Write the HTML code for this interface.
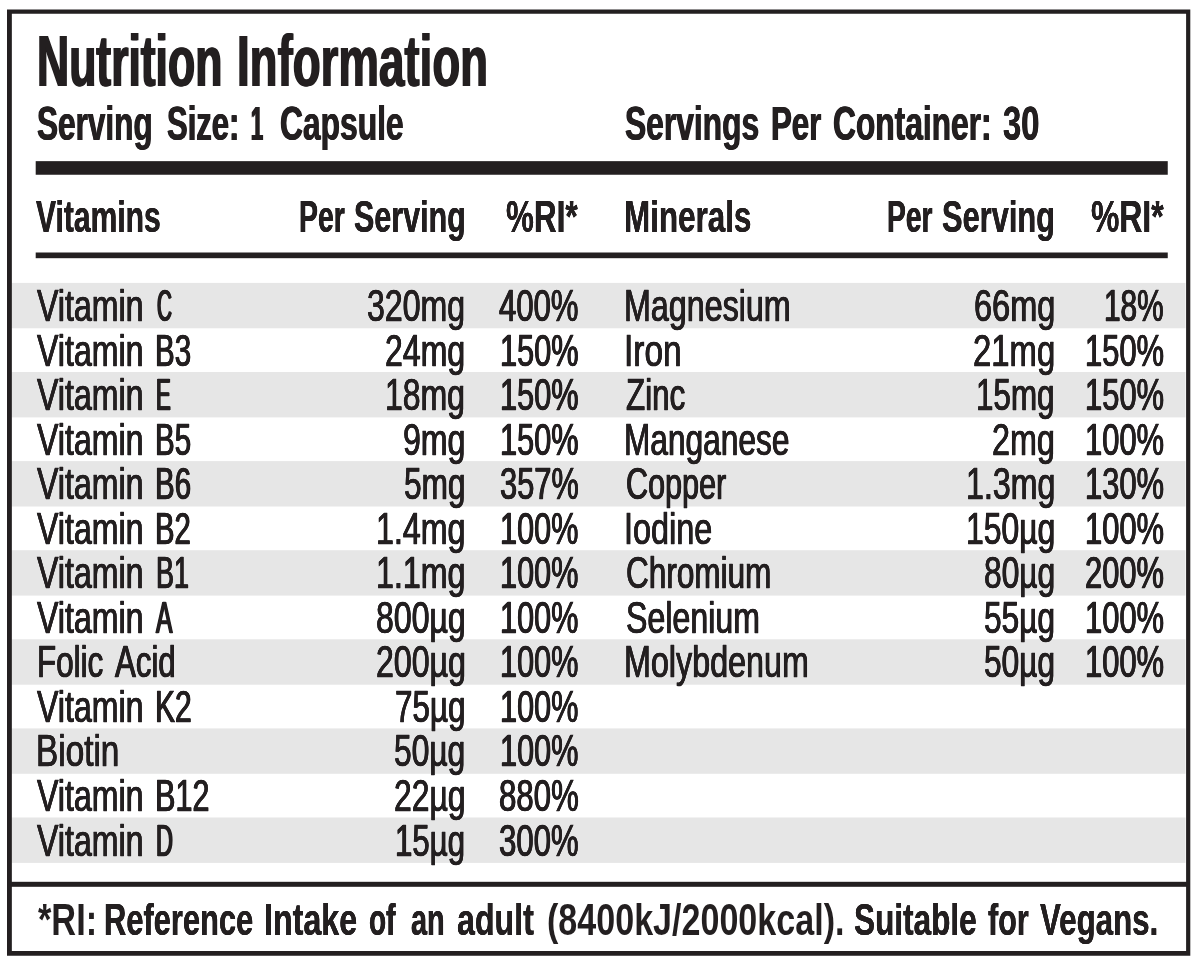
<!DOCTYPE html>
<html><head><meta charset="utf-8"><title>Nutrition Information</title>
<style>
html,body{margin:0;padding:0;background:#fff;}
#c{position:relative;width:1200px;height:963px;overflow:hidden;background:#fff;font-family:"Liberation Sans",sans-serif;color:#231f20;}
#c svg{position:absolute;left:0;top:0;}
.t{position:absolute;white-space:pre;line-height:1;transform-origin:0 0;display:block;}
</style></head><body>
<div id="c">
<svg width="1200" height="963" viewBox="0 0 1200 963">
<rect x="11.5" y="282.90" width="1174" height="45.4" fill="#e6e6e6"/>
<rect x="11.5" y="372.00" width="1174" height="45.4" fill="#e6e6e6"/>
<rect x="11.5" y="461.10" width="1174" height="45.4" fill="#e6e6e6"/>
<rect x="11.5" y="550.20" width="1174" height="45.4" fill="#e6e6e6"/>
<rect x="11.5" y="639.30" width="1174" height="45.4" fill="#e6e6e6"/>
<rect x="11.5" y="728.40" width="1174" height="45.4" fill="#e6e6e6"/>
<rect x="11.5" y="817.50" width="1174" height="45.4" fill="#e6e6e6"/>
<path fill-rule="evenodd" fill="#231f20" d="M7 9.5H1190.3V955.7H7Z M11.85 13.7V951.1H1186.1V13.7Z"/>
<rect x="35.7" y="161.15" width="1132.05" height="13.6" fill="#231f20"/>
<rect x="35.7" y="252.5" width="1132.05" height="5.7" fill="#231f20"/>
<rect x="11" y="881.8" width="1176" height="5" fill="#231f20"/>
</svg>
<span class="t" style="left:36.50px;top:24px;font-size:73px;font-weight:700;transform:scaleX(0.6095);text-shadow:1.23px 0 0 #231f20,-1.23px 0 0 #231f20;">Nutrition</span>
<span class="t" style="left:236.55px;top:24px;font-size:73px;font-weight:700;transform:scaleX(0.6254);text-shadow:1.08px 0 0 #231f20,-1.08px 0 0 #231f20;">Information</span>
<span class="t" style="left:36.75px;top:100px;font-size:48px;font-weight:700;transform:scaleX(0.6570);text-shadow:0.67px 0 0 #231f20,-0.67px 0 0 #231f20;">Serving</span>
<span class="t" style="left:166.81px;top:100px;font-size:48px;font-weight:700;transform:scaleX(0.6457);text-shadow:0.74px 0 0 #231f20,-0.74px 0 0 #231f20;">Size:</span>
<span class="t" style="left:251.16px;top:100px;font-size:48px;font-weight:700;transform:scaleX(0.4487);text-shadow:1.8px 0 0 #231f20,-1.8px 0 0 #231f20;">1</span>
<span class="t" style="left:279.80px;top:100px;font-size:48px;font-weight:700;transform:scaleX(0.6620);text-shadow:0.64px 0 0 #231f20,-0.64px 0 0 #231f20;">Capsule</span>
<span class="t" style="left:625.43px;top:100px;font-size:48px;font-weight:700;transform:scaleX(0.6617);text-shadow:0.64px 0 0 #231f20,-0.64px 0 0 #231f20;">Servings</span>
<span class="t" style="left:770.85px;top:100px;font-size:48px;font-weight:700;transform:scaleX(0.6500);text-shadow:0.71px 0 0 #231f20,-0.71px 0 0 #231f20;">Per</span>
<span class="t" style="left:833.11px;top:100px;font-size:48px;font-weight:700;transform:scaleX(0.6608);text-shadow:0.65px 0 0 #231f20,-0.65px 0 0 #231f20;">Container:</span>
<span class="t" style="left:1003.20px;top:100px;font-size:48px;font-weight:700;transform:scaleX(0.6824);text-shadow:0.52px 0 0 #231f20,-0.52px 0 0 #231f20;">30</span>
<span class="t" style="left:36.45px;top:195px;font-size:44.5px;font-weight:700;transform:scaleX(0.6756);text-shadow:0.28px 0 0 #231f20,-0.28px 0 0 #231f20;">Vitamins</span>
<span class="t" style="left:298.89px;top:195px;font-size:44.5px;font-weight:700;transform:scaleX(0.6381);text-shadow:0.48px 0 0 #231f20,-0.48px 0 0 #231f20;">Per</span>
<span class="t" style="left:353.81px;top:195px;font-size:44.5px;font-weight:700;transform:scaleX(0.6850);text-shadow:0.24px 0 0 #231f20,-0.24px 0 0 #231f20;">Serving</span>
<span class="t" style="left:506.39px;top:195px;font-size:44.5px;font-weight:700;transform:scaleX(0.7063);text-shadow:0.14px 0 0 #231f20,-0.14px 0 0 #231f20;">%RI*</span>
<span class="t" style="left:624.23px;top:195px;font-size:44.5px;font-weight:700;transform:scaleX(0.7058);text-shadow:0.14px 0 0 #231f20,-0.14px 0 0 #231f20;">Minerals</span>
<span class="t" style="left:887.16px;top:195px;font-size:44.5px;font-weight:700;transform:scaleX(0.6341);text-shadow:0.5px 0 0 #231f20,-0.5px 0 0 #231f20;">Per</span>
<span class="t" style="left:941.77px;top:195px;font-size:44.5px;font-weight:700;transform:scaleX(0.6920);text-shadow:0.2px 0 0 #231f20,-0.2px 0 0 #231f20;">Serving</span>
<span class="t" style="left:1090.60px;top:195px;font-size:44.5px;font-weight:700;transform:scaleX(0.7164);text-shadow:0.09px 0 0 #231f20,-0.09px 0 0 #231f20;">%RI*</span>
<span class="t" style="left:37.00px;top:284px;font-size:44.5px;font-weight:400;transform:scaleX(0.7220);text-shadow:0.46px 0 0 #231f20,-0.46px 0 0 #231f20;-webkit-text-stroke:0.7px #231f20;">Vitamin</span>
<span class="t" style="left:156.95px;top:284px;font-size:44.5px;font-weight:400;transform:scaleX(0.4644);text-shadow:1.8px 0 0 #231f20,-1.8px 0 0 #231f20;-webkit-text-stroke:0.7px #231f20;">C</span>
<span class="t" style="left:367.33px;top:284px;font-size:44.5px;font-weight:400;transform:scaleX(0.7210);text-shadow:0.47px 0 0 #231f20,-0.47px 0 0 #231f20;-webkit-text-stroke:0.7px #231f20;">320mg</span>
<span class="t" style="left:499.24px;top:284px;font-size:44.5px;font-weight:400;transform:scaleX(0.6978);text-shadow:0.56px 0 0 #231f20,-0.56px 0 0 #231f20;-webkit-text-stroke:0.7px #231f20;">400%</span>
<span class="t" style="left:37.00px;top:329px;font-size:44.5px;font-weight:400;transform:scaleX(0.7220);text-shadow:0.46px 0 0 #231f20,-0.46px 0 0 #231f20;-webkit-text-stroke:0.7px #231f20;">Vitamin</span>
<span class="t" style="left:155.22px;top:329px;font-size:44.5px;font-weight:400;transform:scaleX(0.6625);text-shadow:0.71px 0 0 #231f20,-0.71px 0 0 #231f20;-webkit-text-stroke:0.7px #231f20;">B3</span>
<span class="t" style="left:385.27px;top:329px;font-size:44.5px;font-weight:400;transform:scaleX(0.7202);text-shadow:0.47px 0 0 #231f20,-0.47px 0 0 #231f20;-webkit-text-stroke:0.7px #231f20;">24mg</span>
<span class="t" style="left:500.03px;top:329px;font-size:44.5px;font-weight:400;transform:scaleX(0.6906);text-shadow:0.59px 0 0 #231f20,-0.59px 0 0 #231f20;-webkit-text-stroke:0.7px #231f20;">150%</span>
<span class="t" style="left:37.00px;top:373px;font-size:44.5px;font-weight:400;transform:scaleX(0.7220);text-shadow:0.46px 0 0 #231f20,-0.46px 0 0 #231f20;-webkit-text-stroke:0.7px #231f20;">Vitamin</span>
<span class="t" style="left:156.16px;top:373px;font-size:44.5px;font-weight:400;transform:scaleX(0.4979);text-shadow:1.71px 0 0 #231f20,-1.71px 0 0 #231f20;-webkit-text-stroke:0.7px #231f20;">E</span>
<span class="t" style="left:385.48px;top:373px;font-size:44.5px;font-weight:400;transform:scaleX(0.7182);text-shadow:0.48px 0 0 #231f20,-0.48px 0 0 #231f20;-webkit-text-stroke:0.7px #231f20;">18mg</span>
<span class="t" style="left:500.03px;top:373px;font-size:44.5px;font-weight:400;transform:scaleX(0.6906);text-shadow:0.59px 0 0 #231f20,-0.59px 0 0 #231f20;-webkit-text-stroke:0.7px #231f20;">150%</span>
<span class="t" style="left:37.00px;top:418px;font-size:44.5px;font-weight:400;transform:scaleX(0.7220);text-shadow:0.46px 0 0 #231f20,-0.46px 0 0 #231f20;-webkit-text-stroke:0.7px #231f20;">Vitamin</span>
<span class="t" style="left:155.22px;top:418px;font-size:44.5px;font-weight:400;transform:scaleX(0.6625);text-shadow:0.71px 0 0 #231f20,-0.71px 0 0 #231f20;-webkit-text-stroke:0.7px #231f20;">B5</span>
<span class="t" style="left:403.05px;top:418px;font-size:44.5px;font-weight:400;transform:scaleX(0.7207);text-shadow:0.47px 0 0 #231f20,-0.47px 0 0 #231f20;-webkit-text-stroke:0.7px #231f20;">9mg</span>
<span class="t" style="left:500.03px;top:418px;font-size:44.5px;font-weight:400;transform:scaleX(0.6906);text-shadow:0.59px 0 0 #231f20,-0.59px 0 0 #231f20;-webkit-text-stroke:0.7px #231f20;">150%</span>
<span class="t" style="left:37.00px;top:462px;font-size:44.5px;font-weight:400;transform:scaleX(0.7220);text-shadow:0.46px 0 0 #231f20,-0.46px 0 0 #231f20;-webkit-text-stroke:0.7px #231f20;">Vitamin</span>
<span class="t" style="left:155.22px;top:462px;font-size:44.5px;font-weight:400;transform:scaleX(0.6625);text-shadow:0.71px 0 0 #231f20,-0.71px 0 0 #231f20;-webkit-text-stroke:0.7px #231f20;">B6</span>
<span class="t" style="left:403.87px;top:462px;font-size:44.5px;font-weight:400;transform:scaleX(0.7107);text-shadow:0.51px 0 0 #231f20,-0.51px 0 0 #231f20;-webkit-text-stroke:0.7px #231f20;">5mg</span>
<span class="t" style="left:499.83px;top:462px;font-size:44.5px;font-weight:400;transform:scaleX(0.6924);text-shadow:0.58px 0 0 #231f20,-0.58px 0 0 #231f20;-webkit-text-stroke:0.7px #231f20;">357%</span>
<span class="t" style="left:37.00px;top:507px;font-size:44.5px;font-weight:400;transform:scaleX(0.7220);text-shadow:0.46px 0 0 #231f20,-0.46px 0 0 #231f20;-webkit-text-stroke:0.7px #231f20;">Vitamin</span>
<span class="t" style="left:155.25px;top:507px;font-size:44.5px;font-weight:400;transform:scaleX(0.6571);text-shadow:0.74px 0 0 #231f20,-0.74px 0 0 #231f20;-webkit-text-stroke:0.7px #231f20;">B2</span>
<span class="t" style="left:376.05px;top:507px;font-size:44.5px;font-weight:400;transform:scaleX(0.7235);text-shadow:0.46px 0 0 #231f20,-0.46px 0 0 #231f20;-webkit-text-stroke:0.7px #231f20;">1.4mg</span>
<span class="t" style="left:500.24px;top:507px;font-size:44.5px;font-weight:400;transform:scaleX(0.6887);text-shadow:0.6px 0 0 #231f20,-0.6px 0 0 #231f20;-webkit-text-stroke:0.7px #231f20;">100%</span>
<span class="t" style="left:37.00px;top:551px;font-size:44.5px;font-weight:400;transform:scaleX(0.7220);text-shadow:0.46px 0 0 #231f20,-0.46px 0 0 #231f20;-webkit-text-stroke:0.7px #231f20;">Vitamin</span>
<span class="t" style="left:155.54px;top:551px;font-size:44.5px;font-weight:400;transform:scaleX(0.6057);text-shadow:0.99px 0 0 #231f20,-0.99px 0 0 #231f20;-webkit-text-stroke:0.7px #231f20;">B1</span>
<span class="t" style="left:376.05px;top:551px;font-size:44.5px;font-weight:400;transform:scaleX(0.7235);text-shadow:0.46px 0 0 #231f20,-0.46px 0 0 #231f20;-webkit-text-stroke:0.7px #231f20;">1.1mg</span>
<span class="t" style="left:500.24px;top:551px;font-size:44.5px;font-weight:400;transform:scaleX(0.6887);text-shadow:0.6px 0 0 #231f20,-0.6px 0 0 #231f20;-webkit-text-stroke:0.7px #231f20;">100%</span>
<span class="t" style="left:37.00px;top:596px;font-size:44.5px;font-weight:400;transform:scaleX(0.7220);text-shadow:0.46px 0 0 #231f20,-0.46px 0 0 #231f20;-webkit-text-stroke:0.7px #231f20;">Vitamin</span>
<span class="t" style="left:156.28px;top:596px;font-size:44.5px;font-weight:400;transform:scaleX(0.5527);text-shadow:1.31px 0 0 #231f20,-1.31px 0 0 #231f20;-webkit-text-stroke:0.7px #231f20;">A</span>
<span class="t" style="left:375.75px;top:596px;font-size:44.5px;font-weight:400;transform:scaleX(0.7200);text-shadow:0.47px 0 0 #231f20,-0.47px 0 0 #231f20;-webkit-text-stroke:0.7px #231f20;">800µg</span>
<span class="t" style="left:500.24px;top:596px;font-size:44.5px;font-weight:400;transform:scaleX(0.6887);text-shadow:0.6px 0 0 #231f20,-0.6px 0 0 #231f20;-webkit-text-stroke:0.7px #231f20;">100%</span>
<span class="t" style="left:36.78px;top:640px;font-size:44.5px;font-weight:400;transform:scaleX(0.7052);text-shadow:0.53px 0 0 #231f20,-0.53px 0 0 #231f20;-webkit-text-stroke:0.7px #231f20;">Folic</span>
<span class="t" style="left:115.15px;top:640px;font-size:44.5px;font-weight:400;transform:scaleX(0.7012);text-shadow:0.54px 0 0 #231f20,-0.54px 0 0 #231f20;-webkit-text-stroke:0.7px #231f20;">Acid</span>
<span class="t" style="left:375.56px;top:640px;font-size:44.5px;font-weight:400;transform:scaleX(0.7216);text-shadow:0.46px 0 0 #231f20,-0.46px 0 0 #231f20;-webkit-text-stroke:0.7px #231f20;">200µg</span>
<span class="t" style="left:500.24px;top:640px;font-size:44.5px;font-weight:400;transform:scaleX(0.6887);text-shadow:0.6px 0 0 #231f20,-0.6px 0 0 #231f20;-webkit-text-stroke:0.7px #231f20;">100%</span>
<span class="t" style="left:37.00px;top:685px;font-size:44.5px;font-weight:400;transform:scaleX(0.7220);text-shadow:0.46px 0 0 #231f20,-0.46px 0 0 #231f20;-webkit-text-stroke:0.7px #231f20;">Vitamin</span>
<span class="t" style="left:155.14px;top:685px;font-size:44.5px;font-weight:400;transform:scaleX(0.6752);text-shadow:0.65px 0 0 #231f20,-0.65px 0 0 #231f20;-webkit-text-stroke:0.7px #231f20;">K2</span>
<span class="t" style="left:394.93px;top:685px;font-size:44.5px;font-weight:400;transform:scaleX(0.7056);text-shadow:0.53px 0 0 #231f20,-0.53px 0 0 #231f20;-webkit-text-stroke:0.7px #231f20;">75µg</span>
<span class="t" style="left:500.24px;top:685px;font-size:44.5px;font-weight:400;transform:scaleX(0.6887);text-shadow:0.6px 0 0 #231f20,-0.6px 0 0 #231f20;-webkit-text-stroke:0.7px #231f20;">100%</span>
<span class="t" style="left:36.22px;top:729px;font-size:44.5px;font-weight:400;transform:scaleX(0.7488);text-shadow:0.36px 0 0 #231f20,-0.36px 0 0 #231f20;-webkit-text-stroke:0.7px #231f20;">Biotin</span>
<span class="t" style="left:394.26px;top:729px;font-size:44.5px;font-weight:400;transform:scaleX(0.7127);text-shadow:0.5px 0 0 #231f20,-0.5px 0 0 #231f20;-webkit-text-stroke:0.7px #231f20;">50µg</span>
<span class="t" style="left:500.24px;top:729px;font-size:44.5px;font-weight:400;transform:scaleX(0.6887);text-shadow:0.6px 0 0 #231f20,-0.6px 0 0 #231f20;-webkit-text-stroke:0.7px #231f20;">100%</span>
<span class="t" style="left:37.00px;top:774px;font-size:44.5px;font-weight:400;transform:scaleX(0.7220);text-shadow:0.46px 0 0 #231f20,-0.46px 0 0 #231f20;-webkit-text-stroke:0.7px #231f20;">Vitamin</span>
<span class="t" style="left:155.07px;top:774px;font-size:44.5px;font-weight:400;transform:scaleX(0.6880);text-shadow:0.6px 0 0 #231f20,-0.6px 0 0 #231f20;-webkit-text-stroke:0.7px #231f20;">B12</span>
<span class="t" style="left:393.88px;top:774px;font-size:44.5px;font-weight:400;transform:scaleX(0.7167);text-shadow:0.48px 0 0 #231f20,-0.48px 0 0 #231f20;-webkit-text-stroke:0.7px #231f20;">22µg</span>
<span class="t" style="left:498.82px;top:774px;font-size:44.5px;font-weight:400;transform:scaleX(0.7016);text-shadow:0.54px 0 0 #231f20,-0.54px 0 0 #231f20;-webkit-text-stroke:0.7px #231f20;">880%</span>
<span class="t" style="left:37.00px;top:819px;font-size:44.5px;font-weight:400;transform:scaleX(0.7220);text-shadow:0.46px 0 0 #231f20,-0.46px 0 0 #231f20;-webkit-text-stroke:0.7px #231f20;">Vitamin</span>
<span class="t" style="left:155.99px;top:819px;font-size:44.5px;font-weight:400;transform:scaleX(0.5283);text-shadow:1.48px 0 0 #231f20,-1.48px 0 0 #231f20;-webkit-text-stroke:0.7px #231f20;">D</span>
<span class="t" style="left:395.37px;top:819px;font-size:44.5px;font-weight:400;transform:scaleX(0.7011);text-shadow:0.54px 0 0 #231f20,-0.54px 0 0 #231f20;-webkit-text-stroke:0.7px #231f20;">15µg</span>
<span class="t" style="left:499.01px;top:819px;font-size:44.5px;font-weight:400;transform:scaleX(0.6999);text-shadow:0.55px 0 0 #231f20,-0.55px 0 0 #231f20;-webkit-text-stroke:0.7px #231f20;">300%</span>
<span class="t" style="left:624.36px;top:284px;font-size:44.5px;font-weight:400;transform:scaleX(0.7249);text-shadow:0.45px 0 0 #231f20,-0.45px 0 0 #231f20;-webkit-text-stroke:0.7px #231f20;">Magnesium</span>
<span class="t" style="left:973.83px;top:284px;font-size:44.5px;font-weight:400;transform:scaleX(0.7300);text-shadow:0.43px 0 0 #231f20,-0.43px 0 0 #231f20;-webkit-text-stroke:0.7px #231f20;">66mg</span>
<span class="t" style="left:1104.35px;top:284px;font-size:44.5px;font-weight:400;transform:scaleX(0.6693);text-shadow:0.68px 0 0 #231f20,-0.68px 0 0 #231f20;-webkit-text-stroke:0.7px #231f20;">18%</span>
<span class="t" style="left:624.02px;top:329px;font-size:44.5px;font-weight:400;transform:scaleX(0.7519);text-shadow:0.35px 0 0 #231f20,-0.35px 0 0 #231f20;-webkit-text-stroke:0.7px #231f20;">Iron</span>
<span class="t" style="left:972.89px;top:329px;font-size:44.5px;font-weight:400;transform:scaleX(0.7387);text-shadow:0.4px 0 0 #231f20,-0.4px 0 0 #231f20;-webkit-text-stroke:0.7px #231f20;">21mg</span>
<span class="t" style="left:1085.01px;top:329px;font-size:44.5px;font-weight:400;transform:scaleX(0.6945);text-shadow:0.57px 0 0 #231f20,-0.57px 0 0 #231f20;-webkit-text-stroke:0.7px #231f20;">150%</span>
<span class="t" style="left:626.06px;top:373px;font-size:44.5px;font-weight:400;transform:scaleX(0.7047);text-shadow:0.53px 0 0 #231f20,-0.53px 0 0 #231f20;-webkit-text-stroke:0.7px #231f20;">Zinc</span>
<span class="t" style="left:976.45px;top:373px;font-size:44.5px;font-weight:400;transform:scaleX(0.7053);text-shadow:0.53px 0 0 #231f20,-0.53px 0 0 #231f20;-webkit-text-stroke:0.7px #231f20;">15mg</span>
<span class="t" style="left:1085.01px;top:373px;font-size:44.5px;font-weight:400;transform:scaleX(0.6945);text-shadow:0.57px 0 0 #231f20,-0.57px 0 0 #231f20;-webkit-text-stroke:0.7px #231f20;">150%</span>
<span class="t" style="left:624.44px;top:418px;font-size:44.5px;font-weight:400;transform:scaleX(0.7113);text-shadow:0.5px 0 0 #231f20,-0.5px 0 0 #231f20;-webkit-text-stroke:0.7px #231f20;">Manganese</span>
<span class="t" style="left:992.14px;top:418px;font-size:44.5px;font-weight:400;transform:scaleX(0.7270);text-shadow:0.44px 0 0 #231f20,-0.44px 0 0 #231f20;-webkit-text-stroke:0.7px #231f20;">2mg</span>
<span class="t" style="left:1085.01px;top:418px;font-size:44.5px;font-weight:400;transform:scaleX(0.6945);text-shadow:0.57px 0 0 #231f20,-0.57px 0 0 #231f20;-webkit-text-stroke:0.7px #231f20;">100%</span>
<span class="t" style="left:625.61px;top:462px;font-size:44.5px;font-weight:400;transform:scaleX(0.6867);text-shadow:0.6px 0 0 #231f20,-0.6px 0 0 #231f20;-webkit-text-stroke:0.7px #231f20;">Copper</span>
<span class="t" style="left:965.76px;top:462px;font-size:44.5px;font-weight:400;transform:scaleX(0.7226);text-shadow:0.46px 0 0 #231f20,-0.46px 0 0 #231f20;-webkit-text-stroke:0.7px #231f20;">1.3mg</span>
<span class="t" style="left:1085.01px;top:462px;font-size:44.5px;font-weight:400;transform:scaleX(0.6945);text-shadow:0.57px 0 0 #231f20,-0.57px 0 0 #231f20;-webkit-text-stroke:0.7px #231f20;">130%</span>
<span class="t" style="left:624.16px;top:507px;font-size:44.5px;font-weight:400;transform:scaleX(0.7284);text-shadow:0.44px 0 0 #231f20,-0.44px 0 0 #231f20;-webkit-text-stroke:0.7px #231f20;">Iodine</span>
<span class="t" style="left:965.79px;top:507px;font-size:44.5px;font-weight:400;transform:scaleX(0.7164);text-shadow:0.48px 0 0 #231f20,-0.48px 0 0 #231f20;-webkit-text-stroke:0.7px #231f20;">150µg</span>
<span class="t" style="left:1085.01px;top:507px;font-size:44.5px;font-weight:400;transform:scaleX(0.6945);text-shadow:0.57px 0 0 #231f20,-0.57px 0 0 #231f20;-webkit-text-stroke:0.7px #231f20;">100%</span>
<span class="t" style="left:625.52px;top:551px;font-size:44.5px;font-weight:400;transform:scaleX(0.7083);text-shadow:0.52px 0 0 #231f20,-0.52px 0 0 #231f20;-webkit-text-stroke:0.7px #231f20;">Chromium</span>
<span class="t" style="left:983.88px;top:551px;font-size:44.5px;font-weight:400;transform:scaleX(0.7125);text-shadow:0.5px 0 0 #231f20,-0.5px 0 0 #231f20;-webkit-text-stroke:0.7px #231f20;">80µg</span>
<span class="t" style="left:1085.08px;top:551px;font-size:44.5px;font-weight:400;transform:scaleX(0.6938);text-shadow:0.57px 0 0 #231f20,-0.57px 0 0 #231f20;-webkit-text-stroke:0.7px #231f20;">200%</span>
<span class="t" style="left:625.64px;top:596px;font-size:44.5px;font-weight:400;transform:scaleX(0.7221);text-shadow:0.46px 0 0 #231f20,-0.46px 0 0 #231f20;-webkit-text-stroke:0.7px #231f20;">Selenium</span>
<span class="t" style="left:984.07px;top:596px;font-size:44.5px;font-weight:400;transform:scaleX(0.7105);text-shadow:0.51px 0 0 #231f20,-0.51px 0 0 #231f20;-webkit-text-stroke:0.7px #231f20;">55µg</span>
<span class="t" style="left:1085.01px;top:596px;font-size:44.5px;font-weight:400;transform:scaleX(0.6945);text-shadow:0.57px 0 0 #231f20,-0.57px 0 0 #231f20;-webkit-text-stroke:0.7px #231f20;">100%</span>
<span class="t" style="left:624.36px;top:640px;font-size:44.5px;font-weight:400;transform:scaleX(0.7256);text-shadow:0.45px 0 0 #231f20,-0.45px 0 0 #231f20;-webkit-text-stroke:0.7px #231f20;">Molybdenum</span>
<span class="t" style="left:984.07px;top:640px;font-size:44.5px;font-weight:400;transform:scaleX(0.7105);text-shadow:0.51px 0 0 #231f20,-0.51px 0 0 #231f20;-webkit-text-stroke:0.7px #231f20;">50µg</span>
<span class="t" style="left:1085.01px;top:640px;font-size:44.5px;font-weight:400;transform:scaleX(0.6945);text-shadow:0.57px 0 0 #231f20,-0.57px 0 0 #231f20;-webkit-text-stroke:0.7px #231f20;">100%</span>
<span class="t" style="left:38.11px;top:897px;font-size:45px;font-weight:700;transform:scaleX(0.7630);">*RI:</span>
<span class="t" style="left:104.08px;top:897px;font-size:45px;font-weight:700;transform:scaleX(0.6856);text-shadow:0.2px 0 0 #231f20,-0.2px 0 0 #231f20;">Reference</span>
<span class="t" style="left:263.89px;top:897px;font-size:45px;font-weight:700;transform:scaleX(0.7164);text-shadow:0.06px 0 0 #231f20,-0.06px 0 0 #231f20;">Intake</span>
<span class="t" style="left:369.25px;top:897px;font-size:45px;font-weight:700;transform:scaleX(0.6216);text-shadow:0.54px 0 0 #231f20,-0.54px 0 0 #231f20;">of</span>
<span class="t" style="left:411.18px;top:897px;font-size:45px;font-weight:700;transform:scaleX(0.6402);text-shadow:0.43px 0 0 #231f20,-0.43px 0 0 #231f20;">an</span>
<span class="t" style="left:457.45px;top:897px;font-size:45px;font-weight:700;transform:scaleX(0.7150);text-shadow:0.06px 0 0 #231f20,-0.06px 0 0 #231f20;">adult</span>
<span class="t" style="left:546.60px;top:897px;font-size:45px;font-weight:700;transform:scaleX(0.7572);">(8400kJ/2000kcal).</span>
<span class="t" style="left:854.21px;top:897px;font-size:45px;font-weight:700;transform:scaleX(0.7014);text-shadow:0.13px 0 0 #231f20,-0.13px 0 0 #231f20;">Suitable</span>
<span class="t" style="left:987.95px;top:897px;font-size:45px;font-weight:700;transform:scaleX(0.6784);text-shadow:0.23px 0 0 #231f20,-0.23px 0 0 #231f20;">for</span>
<span class="t" style="left:1039.76px;top:897px;font-size:45px;font-weight:700;transform:scaleX(0.6954);text-shadow:0.15px 0 0 #231f20,-0.15px 0 0 #231f20;">Vegans.</span>
</div>
</body></html>
